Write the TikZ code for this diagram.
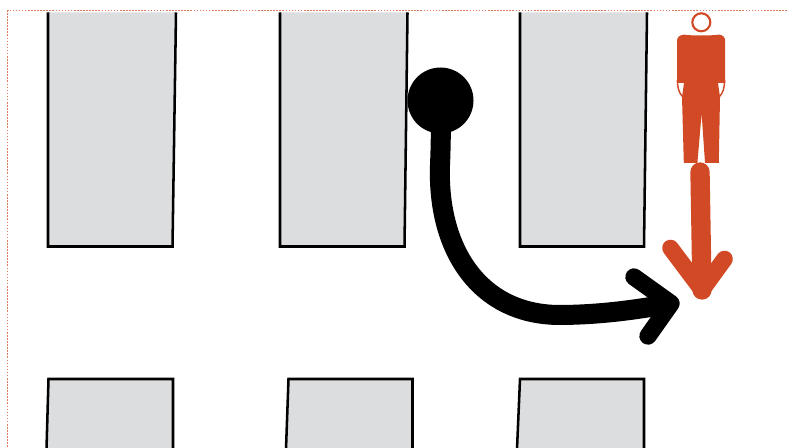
\documentclass[tikz,border=0pt]{standalone}
\definecolor{rust}{HTML}{D24A25}
\definecolor{slab}{HTML}{DCDDDF}
\definecolor{framerust}{HTML}{E07A5E}
\tikzset{
  frameline/.style={framerust, line width=1.1pt, dash pattern=on 1.2pt off 1.1pt},
  slabfill/.style={fill=slab, draw=none},
  slabedge/.style={draw=black, line width=1.9pt, line join=miter},
  thick black/.style={draw=black, line cap=round, line join=round},
  thick rust/.style={draw=rust, line cap=round, line join=round},
  blob/.style={circle, fill=black, minimum size=49.5pt, inner sep=0pt},
  headring/.style={circle, draw=rust, line width=1.6pt, fill=white, minimum size=13.5pt, inner sep=0pt}
}
\begin{document}
\begin{tikzpicture}[x=0.75pt,y=-0.75pt]
\useasboundingbox (0,0) rectangle (787,448);
\fill[white] (0,0) rectangle (787,448);
\draw[frameline] (787,10.5) -- (7.5,10.5) -- (7.5,448);
% upper slabs
\fill[slabfill] (48,12.5) -- (48,246.5) -- (172.5,246.5) -- (176,12.5) -- cycle;
\draw[slabedge] (48,12.5) -- (48,246.5) -- (172.5,246.5) -- (176,12.5);
\fill[slabfill] (280,12.5) -- (280,246.5) -- (404.5,246.5) -- (407.5,12.5) -- cycle;
\draw[slabedge] (280,12.5) -- (280,246.5) -- (404.5,246.5) -- (407.5,12.5);
\fill[slabfill] (520,12.5) -- (520,246.5) -- (644,246.5) -- (647,12.5) -- cycle;
\draw[slabedge] (520,12.5) -- (520,246.5) -- (644,246.5) -- (647,12.5);
% lower slabs
\fill[slabfill] (48.5,379) -- (173,379) -- (173,449) -- (46.5,449) -- cycle;
\draw[slabedge] (46.5,449) -- (48.5,379) -- (173,379) -- (173,449);
\fill[slabfill] (288.5,379) -- (412.5,379) -- (412.5,449) -- (286,449) -- cycle;
\draw[slabedge] (286,449) -- (288.5,379) -- (412.5,379) -- (412.5,449);
\fill[slabfill] (520,379) -- (644,379) -- (644,449) -- (517,449) -- cycle;
\draw[slabedge] (517,449) -- (520,379) -- (644,379) -- (644,449);
% black marker and route
\node[blob] (start) at (440.5,100.5) {};
\coordinate (tipk) at (671,303.5);
\coordinate (barbka) at (634,277);
\coordinate (barbkb) at (648,336);
\draw[thick black, line width=15pt, line cap=butt] (start.center) .. controls (441,125) and (441,140) .. (440,165)
  .. controls (437,250) and (480,316) .. (562,315)
  .. controls (605,314.5) and (640,309) .. (tipk);
\draw[thick black, line width=13pt] (barbka) -- (tipk) -- (barbkb);
% person
\node[headring] (head) at (701.3,22.3) {};
\fill[rust] (684,34.6) .. controls (690,35.8) and (712,35.8) .. (719,34.6)
  .. controls (723,35.2) and (725,37) .. (725.2,41)
  -- (725.2,83) -- (718,83) -- (720,97) -- (718.8,162.8) -- (705,162.8)
  -- (701.6,113.5) -- (697.4,162.8) -- (683.8,162.8) -- (682,97) -- (684,83)
  -- (677,83) -- (677,41) .. controls (677,37) and (679.5,35.2) .. (684,34.6) -- cycle;
\draw[rust, line width=1.1pt] (677.4,80) .. controls (677.5,88) and (679,93) .. (682.5,96.5);
\draw[rust, line width=1.1pt] (724.6,80) .. controls (724.5,88) and (723,93) .. (719.5,96.5);
% rust route arrow
\coordinate (shafttop) at (700,172);
\coordinate (tipr) at (702,290);
\coordinate (barbra) at (670.5,248);
\coordinate (barbrb) at (724.5,259);
\draw[thick rust, line width=14.5pt] (shafttop) -- (tipr);
\draw[thick rust, line width=12.5pt] (barbra) -- (tipr) -- (barbrb);
\end{tikzpicture}
\end{document}
